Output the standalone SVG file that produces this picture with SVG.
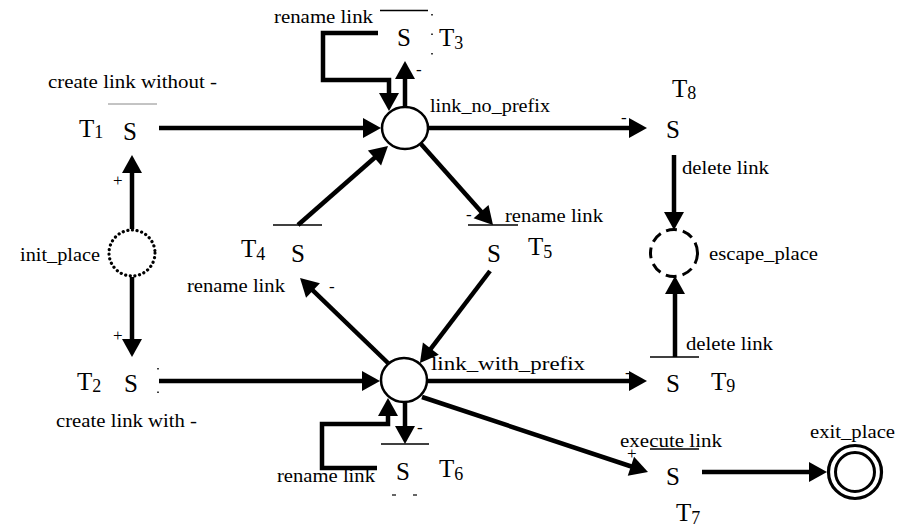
<svg xmlns="http://www.w3.org/2000/svg" width="912" height="526" viewBox="0 0 912 526">
<style>
text { font-family: "Times New Roman", Times, "Liberation Serif", serif; fill: #000; }
.lbl { font-size: 18px; }
.s { font-size: 25px; }
.t { font-size: 25px; }
.sub { font-size: 18px; }
.sign { font-size: 17px; }
.bar { stroke: #000; stroke-width: 1.5; }
.dot { stroke: #000; stroke-width: 1.5; stroke-dasharray: 1.5 18; }
.c { stroke: #000; stroke-width: 4.5; fill: none; marker-end: url(#ah); }
.place { fill: #fff; stroke: #000; stroke-width: 2.5; }
</style>
<defs>
<marker id="ah" markerUnits="userSpaceOnUse" markerWidth="20" markerHeight="22" refX="10" refY="10" orient="auto" overflow="visible">
<path d="M0,0 L18,10 L0,20 z" fill="#000"/>
</marker>
</defs>
<rect width="912" height="526" fill="#fff"/>

<g id="connectors">
<line class="c" x1="159" y1="128" x2="373" y2="128"/>
<line class="c" x1="159" y1="381" x2="372" y2="381"/>
<line class="c" x1="132" y1="229" x2="132" y2="163"/>
<line class="c" x1="132" y1="277" x2="132" y2="349"/>
<line class="c" x1="405" y1="106" x2="405" y2="69"/>
<path class="c" d="M378,33 H323 V80 H389 V103"/>
<line class="c" x1="428" y1="128" x2="639" y2="128"/>
<line class="c" x1="674" y1="155" x2="674" y2="222"/>
<line class="c" x1="675" y1="357" x2="675" y2="284"/>
<line class="c" x1="428" y1="381" x2="639" y2="381"/>
<line class="c" x1="422" y1="397" x2="640.4" y2="469.5"/>
<line class="c" x1="702" y1="472" x2="819" y2="472"/>
<line class="c" x1="405" y1="403" x2="405" y2="436"/>
<path class="c" d="M377,468 H322 V424 H388 V406"/>
<line class="c" x1="298" y1="225" x2="382" y2="151.3"/>
<line class="c" x1="421" y1="144" x2="487.7" y2="219"/>
<line class="c" x1="490" y1="271" x2="424.8" y2="356.6"/>
<line class="c" x1="388" y1="363" x2="305.8" y2="283.6"/>
<text class="sign" x="113" y="186">+</text>
<text class="sign" x="113" y="341">+</text>
<text class="sign" x="627" y="459">+</text>
<text class="sign" x="416" y="75">-</text>
<text class="sign" x="621" y="123">-</text>
<text class="sign" x="466" y="220">-</text>
<text class="sign" x="329" y="292">-</text>
<text class="sign" x="625" y="378">-</text>
<text class="sign" x="417" y="433">-</text>
</g>

<g id="link_no_prefix">
<ellipse class="place" cx="405" cy="128" rx="23" ry="21"/>
<text class="lbl" x="430" y="112" textLength="120" lengthAdjust="spacingAndGlyphs">link_no_prefix</text>
</g>
<g id="link_with_prefix">
<ellipse class="place" cx="404" cy="380" rx="23" ry="22"/>
<text class="lbl" x="431" y="370" textLength="154" lengthAdjust="spacingAndGlyphs">link_with_prefix</text>
</g>
<g id="init_place">
<circle cx="132" cy="253" r="23" fill="#fff" stroke="#000" stroke-width="3.2" stroke-dasharray="0.1 4.6" stroke-linecap="round"/>
<text class="lbl" x="20" y="261" textLength="80" lengthAdjust="spacingAndGlyphs">init_place</text>
</g>
<g id="escape_place">
<circle cx="674" cy="253" r="23.5" fill="#fff" stroke="#000" stroke-width="3" stroke-dasharray="11 6"/>
<text class="lbl" x="709" y="260" textLength="109" lengthAdjust="spacingAndGlyphs">escape_place</text>
</g>
<g id="exit_place">
<circle cx="855" cy="472" r="26.5" fill="#fff" stroke="#000" stroke-width="3.2"/>
<circle cx="855" cy="472" r="19.5" fill="none" stroke="#000" stroke-width="3"/>
<text class="lbl" x="810" y="438" textLength="85" lengthAdjust="spacingAndGlyphs">exit_place</text>
</g>

<g id="T1">
<line x1="108" y1="104" x2="157" y2="104" stroke="#888" stroke-width="1"/>
<text class="s" x="123" y="140">S</text>
<text class="t" x="79" y="137">T<tspan class="sub" dy="1">1</tspan></text>
<text class="lbl" x="48" y="88" textLength="169" lengthAdjust="spacingAndGlyphs">create link without -</text>
</g>
<g id="T2">
<line class="dot" x1="158" y1="368" x2="158" y2="394" style="stroke-dasharray:1.5 22"/>
<text class="s" x="124" y="392">S</text>
<text class="t" x="77" y="390">T<tspan class="sub" dy="2">2</tspan></text>
<text class="lbl" x="56" y="427" textLength="141" lengthAdjust="spacingAndGlyphs">create link with -</text>
</g>
<g id="T3">
<line class="bar" x1="380" y1="10.5" x2="428" y2="10.5"/>
<line class="dot" x1="432" y1="14" x2="432" y2="60"/>
<text class="s" x="397" y="46">S</text>
<text class="t" x="439" y="46">T<tspan class="sub" dy="3">3</tspan></text>
<text class="lbl" x="274" y="23" textLength="99" lengthAdjust="spacingAndGlyphs">rename link</text>
</g>
<g id="T4">
<line class="bar" x1="273" y1="225" x2="322" y2="225"/>
<text class="s" x="291" y="262">S</text>
<text class="t" x="241" y="257">T<tspan class="sub" dy="3">4</tspan></text>
<text class="lbl" x="187" y="292" textLength="98" lengthAdjust="spacingAndGlyphs">rename link</text>
</g>
<g id="T5">
<line class="bar" x1="468" y1="225" x2="518" y2="225"/>
<text class="s" x="487" y="262">S</text>
<text class="t" x="528" y="255">T<tspan class="sub" dy="3">5</tspan></text>
<text class="lbl" x="505" y="222" textLength="98" lengthAdjust="spacingAndGlyphs">rename link</text>
</g>
<g id="T6">
<line class="bar" x1="381" y1="444" x2="429" y2="444"/>
<line x1="392" y1="495" x2="396" y2="495" stroke="#000" stroke-width="1.2"/>
<line x1="413" y1="495" x2="417" y2="495" stroke="#000" stroke-width="1.2"/>
<text class="s" x="396" y="480">S</text>
<text class="t" x="439" y="477">T<tspan class="sub" dy="3">6</tspan></text>
<text class="lbl" x="277" y="482" textLength="98" lengthAdjust="spacingAndGlyphs">rename link</text>
</g>
<g id="T7">
<line class="bar" x1="650" y1="449" x2="699" y2="449"/>
<text class="s" x="666" y="485">S</text>
<text class="t" x="676" y="521">T<tspan class="sub" dy="3">7</tspan></text>
<text class="lbl" x="620" y="447" textLength="102" lengthAdjust="spacingAndGlyphs">execute link</text>
</g>
<g id="T8">
<text class="s" x="666" y="138">S</text>
<text class="t" x="672" y="97">T<tspan class="sub" dy="2">8</tspan></text>
<text class="lbl" x="682" y="174" textLength="87" lengthAdjust="spacingAndGlyphs">delete link</text>
</g>
<g id="T9">
<line class="bar" x1="650" y1="357" x2="699" y2="357"/>
<text class="s" x="666" y="392">S</text>
<text class="t" x="711" y="390">T<tspan class="sub" dy="2">9</tspan></text>
<text class="lbl" x="686" y="350" textLength="87" lengthAdjust="spacingAndGlyphs">delete link</text>
</g>
</svg>
